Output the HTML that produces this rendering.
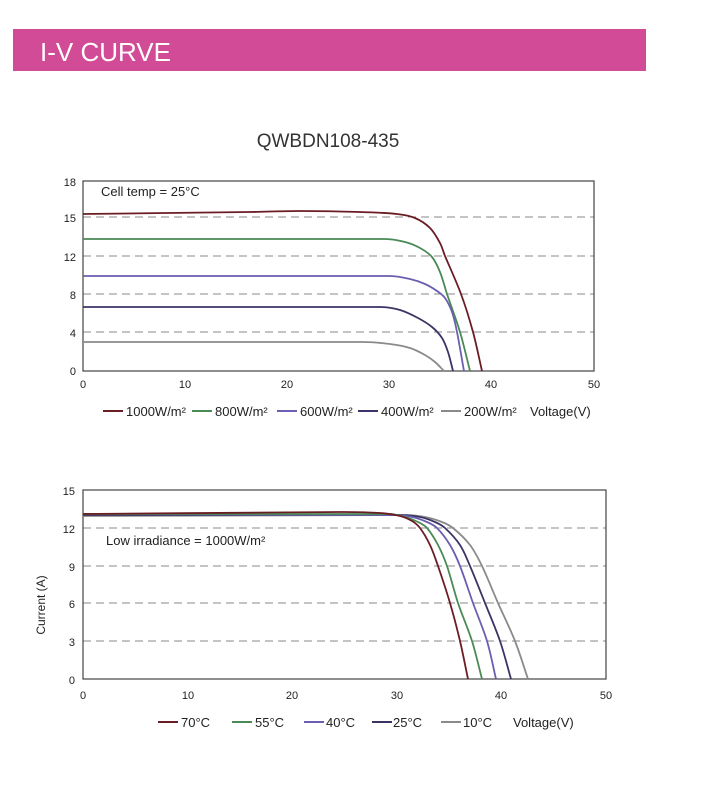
<!DOCTYPE html>
<html><head><meta charset="utf-8"><style>
body{margin:0;background:#fff;width:713px;height:785px;overflow:hidden;font-family:"Liberation Sans",sans-serif}
</style></head><body>
<svg width="713" height="785" xmlns="http://www.w3.org/2000/svg" font-family="Liberation Sans, sans-serif">
<rect x="13" y="29" width="633" height="42" fill="#d14b96"/>
<text x="40" y="61" font-size="26" fill="#fff">I-V CURVE</text>
<text x="328" y="147" font-size="19" fill="#333" text-anchor="middle">QWBDN108-435</text>

<g stroke="#888" stroke-dasharray="8,5" stroke-width="1">
<line x1="83" x2="594" y1="217" y2="217"/><line x1="83" x2="594" y1="256" y2="256"/>
<line x1="83" x2="594" y1="294" y2="294"/><line x1="83" x2="594" y1="332" y2="332"/>
</g>
<rect x="83" y="181" width="511" height="190" fill="none" stroke="#444" stroke-width="1.2"/>
<g font-size="11" fill="#222" text-anchor="end">
<text x="76" y="186">18</text><text x="76" y="222">15</text><text x="76" y="261">12</text><text x="76" y="299">8</text><text x="76" y="337">4</text><text x="76" y="375">0</text>
</g>
<g font-size="11" fill="#222" text-anchor="middle">
<text x="83" y="388">0</text><text x="185" y="388">10</text><text x="287" y="388">20</text><text x="389" y="388">30</text><text x="491" y="388">40</text><text x="594" y="388">50</text>
</g>
<text x="101" y="196" font-size="13" fill="#222">Cell temp = 25°C</text>
<g fill="none" stroke-width="1.8" stroke-linejoin="round" class="sm">
<polyline stroke="#6b1d24" points="83,214 250,212 300,211 360,212 397,214 415,218 430,228 440,243 445,256 461,294 473,332 482,371"/>
<polyline stroke="#4a8a55" points="83,239 385,239 405,242 420,248 432,257 440,272 447,294 460,332 470,371"/>
<polyline stroke="#6a5fb0" points="83,276 390,276 410,279 425,284 437,291 445,298 452,312 457,332 464,371"/>
<polyline stroke="#3a3566" points="83,307 380,307 400,310 418,318 432,327 442,338 448,352 453,371"/>
<polyline stroke="#8a8a8a" points="83,342 363,342 390,344 410,348 425,355 435,362 444,371"/>
</g>
<g font-size="13" fill="#222">
<line x1="103" x2="123" y1="411" y2="411" stroke="#6b1d24" stroke-width="2"/><text x="126" y="416">1000W/m²</text>
<line x1="192" x2="212" y1="411" y2="411" stroke="#4a8a55" stroke-width="2"/><text x="215" y="416">800W/m²</text>
<line x1="277" x2="297" y1="411" y2="411" stroke="#6a5fb0" stroke-width="2"/><text x="300" y="416">600W/m²</text>
<line x1="358" x2="378" y1="411" y2="411" stroke="#3a3566" stroke-width="2"/><text x="381" y="416">400W/m²</text>
<line x1="441" x2="461" y1="411" y2="411" stroke="#8a8a8a" stroke-width="2"/><text x="464" y="416">200W/m²</text>
<text x="530" y="416">Voltage(V)</text>
</g>

<g stroke="#888" stroke-dasharray="8,5" stroke-width="1">
<line x1="83" x2="606" y1="528" y2="528"/><line x1="83" x2="606" y1="566" y2="566"/>
<line x1="83" x2="606" y1="603" y2="603"/><line x1="83" x2="606" y1="641" y2="641"/>
</g>
<rect x="83" y="490" width="523" height="189" fill="none" stroke="#444" stroke-width="1.2"/>
<g font-size="11" fill="#222" text-anchor="end">
<text x="75" y="495">15</text><text x="75" y="533">12</text><text x="75" y="571">9</text><text x="75" y="608">6</text><text x="75" y="646">3</text><text x="75" y="684">0</text>
</g>
<g font-size="11" fill="#222" text-anchor="middle">
<text x="83" y="699">0</text><text x="188" y="699">10</text><text x="292" y="699">20</text><text x="397" y="699">30</text><text x="501" y="699">40</text><text x="606" y="699">50</text>
</g>
<text x="45" y="605" font-size="12" fill="#222" text-anchor="middle" transform="rotate(-90 45 605)">Current (A)</text>
<text x="106" y="545" font-size="13" fill="#222">Low irradiance = 1000W/m²</text>
<g fill="none" stroke-width="1.8" stroke-linejoin="round" class="sm">
<polyline stroke="#8a8a8a" points="83,516 405,515 425,517 442,522 453,528 470,545 482,566 498,603 515,641 528,679"/>
<polyline stroke="#3a3566" points="83,515 400,515 420,517 435,522 445,528 460,545 470,566 485,603 500,641 511,679"/>
<polyline stroke="#6a5fb0" points="83,514 395,515 412,517 427,522 437,528 450,545 460,566 473,603 487,641 496,679"/>
<polyline stroke="#4a8a55" points="83,514 390,514 405,517 418,522 427,528 438,545 447,566 458,603 472,641 482,679"/>
<polyline stroke="#6b1d24" points="83,514 340,512 380,513 400,516 412,521 420,528 430,545 438,566 450,603 460,641 468,679"/>
</g>
<g font-size="13" fill="#222">
<line x1="158" x2="178" y1="722" y2="722" stroke="#6b1d24" stroke-width="2"/><text x="181" y="727">70°C</text>
<line x1="232" x2="252" y1="722" y2="722" stroke="#4a8a55" stroke-width="2"/><text x="255" y="727">55°C</text>
<line x1="304" x2="324" y1="722" y2="722" stroke="#6a5fb0" stroke-width="2"/><text x="326" y="727">40°C</text>
<line x1="372" x2="392" y1="722" y2="722" stroke="#3a3566" stroke-width="2"/><text x="393" y="727">25°C</text>
<line x1="441" x2="461" y1="722" y2="722" stroke="#8a8a8a" stroke-width="2"/><text x="463" y="727">10°C</text>
<text x="513" y="727">Voltage(V)</text>
</g>
</svg>
<script>
document.querySelectorAll('.sm polyline').forEach(function(pl){
  var p=pl.getAttribute('points').trim().split(/\s+/).map(function(s){return s.split(',').map(Number)});
  var n=p.length,t=[];
  for(var i=0;i<n;i++){
    var a=p[Math.max(i-1,0)],b=p[Math.min(i+1,n-1)];
    var dx=b[0]-a[0],dy=b[1]-a[1],L=Math.hypot(dx,dy)||1;
    t.push([dx/L,dy/L]);
  }
  var d='M'+p[0][0]+','+p[0][1];
  for(var i=0;i<n-1;i++){
    var p1=p[i],p2=p[i+1];
    var s=Math.hypot(p2[0]-p1[0],p2[1]-p1[1]);
    var h1=Math.min(s/3, i>0?Math.hypot(p1[0]-p[i-1][0],p1[1]-p[i-1][1])/3:s/3);
    var h2=Math.min(s/3, i+2<n?Math.hypot(p[i+2][0]-p2[0],p[i+2][1]-p2[1])/3:s/3);
    if(i==0)h1=s/3; if(i==n-2)h2=s/3;
    h1=Math.min(h1*1.5,s/3);h2=Math.min(h2*1.5,s/3);
    d+=' C'+(p1[0]+t[i][0]*h1)+','+(p1[1]+t[i][1]*h1)+' '+(p2[0]-t[i+1][0]*h2)+','+(p2[1]-t[i+1][1]*h2)+' '+p2[0]+','+p2[1];
  }
  var path=document.createElementNS('http://www.w3.org/2000/svg','path');
  path.setAttribute('d',d);path.setAttribute('stroke',pl.getAttribute('stroke'));
  pl.parentNode.replaceChild(path,pl);
});
</script>
</body></html>
